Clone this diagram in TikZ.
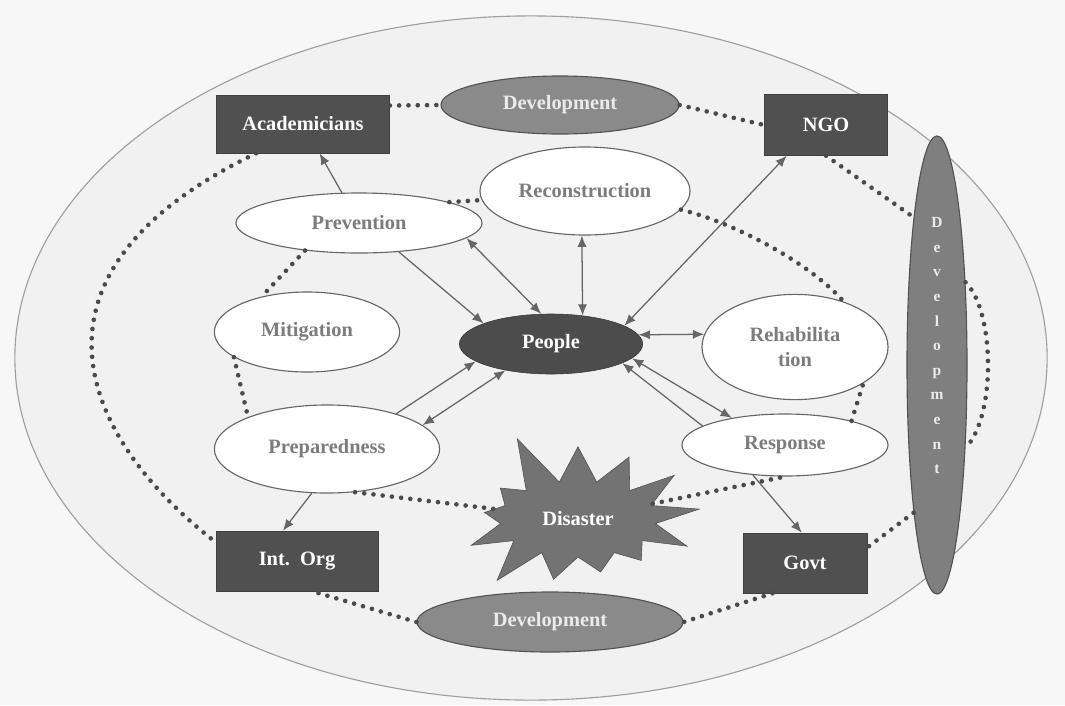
\documentclass[tikz,border=0pt]{standalone}
\usepackage{fontspec}
\setmainfont{Liberation Serif}
\usetikzlibrary{shapes.geometric,shapes.symbols,arrows.meta}
\definecolor{bgcol}{HTML}{F7F7F7}
\definecolor{ringcol}{HTML}{F1F1F1}
\definecolor{boxcol}{HTML}{505050}
\definecolor{devcol}{HTML}{8A8A8A}
\definecolor{starcol}{HTML}{737373}
\definecolor{linecol}{HTML}{666666}
\definecolor{dotcol}{HTML}{4A4A4A}
\definecolor{txtcol}{HTML}{7C7C7C}
\begin{document}
\begin{tikzpicture}[x=0.025cm,y=-0.025cm,
    every node/.style={font=\bfseries\fontsize{14.5}{16}\selectfont,inner sep=0pt},
    actor/.style={rectangle,fill=boxcol,draw=boxcol!80!black,text=white},
    phase/.style={ellipse,fill=white,draw=linecol,line width=0.8pt,text=txtcol},
    devel/.style={ellipse,fill=devcol,draw=devcol!60!black,line width=0.8pt,text=white!92!black},
    arr/.style={draw=linecol,line width=0.9pt,-{Latex[length=8pt,width=6.5pt]}},
    arrboth/.style={arr,{Latex[length=8pt,width=6.5pt]}-{Latex[length=8pt,width=6.5pt]}},
    dots/.style={draw=dotcol,line width=3.3pt,line cap=round,dash pattern=on 0pt off 6.6pt}]
  \fill[bgcol] (0,0) rectangle (1065,705);
  \useasboundingbox (0,0) rectangle (1065,705);
  \draw[draw=gray!75,fill=ringcol,line width=0.8pt] (531,358) ellipse [x radius=12.9cm,y radius=8.55cm];

  \node[actor,minimum width=4.33cm,minimum height=1.45cm] (aca) at (303,124) {Academicians};
  \node[actor,minimum width=3.08cm,minimum height=1.52cm] (ngo) at (826,125) {NGO};
  \node[actor,minimum width=4.05cm,minimum height=1.5cm] (intorg) at (297,561) {Int.\ \ Org};
  \node[actor,minimum width=3.1cm,minimum height=1.5cm] (govt) at (805,563) {Govt};
  \node[devel,minimum width=5.95cm,minimum height=1.45cm] (devtop) at (560,105) {Development};
  \node[devel,minimum width=6.65cm,minimum height=1.5cm] (devbot) at (550,622) {Development};
  \node[devel,fill=devcol!92!black,minimum width=1.5cm,minimum height=11.45cm,align=center,
        font=\bfseries\fontsize{11}{17.5}\selectfont] (devright) at (937,365) {D\\e\\v\\e\\l\\o\\p\\m\\e\\n\\t\\[10pt]};
  \node[phase,minimum width=5.25cm,minimum height=2.2cm] (recon) at (585,191) {Reconstruction};
  \node[phase,minimum width=6.15cm,minimum height=1.5cm] (prev) at (359,223) {Prevention};
  \node[phase,minimum width=4.63cm,minimum height=2cm] (miti) at (307,332) {Mitigation};
  \node[phase,minimum width=5.63cm,minimum height=2.2cm] (prep) at (327,449) {Preparedness};
  \node[phase,minimum width=4.65cm,minimum height=2.63cm,align=center,
        font=\bfseries\fontsize{14.5}{18}\selectfont] (rehab) at (795,347) {Rehabilita\\tion};
  \node[phase,minimum width=5.15cm,minimum height=1.55cm] (resp) at (785,445) {Response};
  \node[ellipse,fill=boxcol!95!black,draw=boxcol!70!black,text=white,
        minimum width=4.58cm,minimum height=1.5cm] (people) at (551,344) {People};
  \node[starburst,starburst points=13,starburst point height=1.4cm,random starburst=5,
        fill=starcol,draw=starcol!70!black,text=white,minimum width=6.7cm,minimum height=4.7cm] (disaster) at (578,519) {Disaster};

  \draw[arr] (prev) -- (aca);
  \draw[arr] (prev.-36) -- (people.163);
  \draw[arrboth] (prev.-8) -- (people.108);
  \draw[arrboth] (recon.-94) -- (people.42);
  \draw[arrboth] (ngo.-142) -- (people.14);
  \draw[arrboth] (people.6) -- (rehab.172);
  \draw[arrboth] (people.-10) -- (resp.153);
  \draw[arr] (resp.167) -- (people.-15);
  \draw[arr] (prep.27) -- (people.193);
  \draw[arrboth] (prep.14) -- (people.210);
  \draw[arr] (prep.-109) -- (intorg.115);
  \draw[arr] (resp.-137) -- (govt.96);

  \draw[dots] (aca.12) -- (devtop.west);
  \draw[dots] (devtop.east) -- (ngo.west);
  \draw[dots] (ngo.south) -- (devright.99);
  \draw[dots] (devright.71) .. controls +(30,30) and +(30,-30) .. (devright.-71);
  \draw[dots] (devright.-99) -- (govt.14);
  \draw[dots] (govt.-137) -- (devbot.east);
  \draw[dots] (devbot.west) -- (intorg.-63);
  \draw[dots] (aca.-148) .. controls (4,275) and (84,440) .. (intorg.167);
  \draw[dots] (prev.13) -- (recon.185);
  \draw[dots] (prev.-153) -- (miti.142);
  \draw[dots] (miti.-161) -- (prep.158);
  \draw[dots] (prep.-57) -- (disaster);
  \draw[dots] (disaster) -- (resp.south);
  \draw[dots] (resp.20) -- (rehab.-28);
  \draw[dots] (recon.-11) .. controls +(50,12) and +(-35,-40) .. (rehab.43);
\end{tikzpicture}
\end{document}
